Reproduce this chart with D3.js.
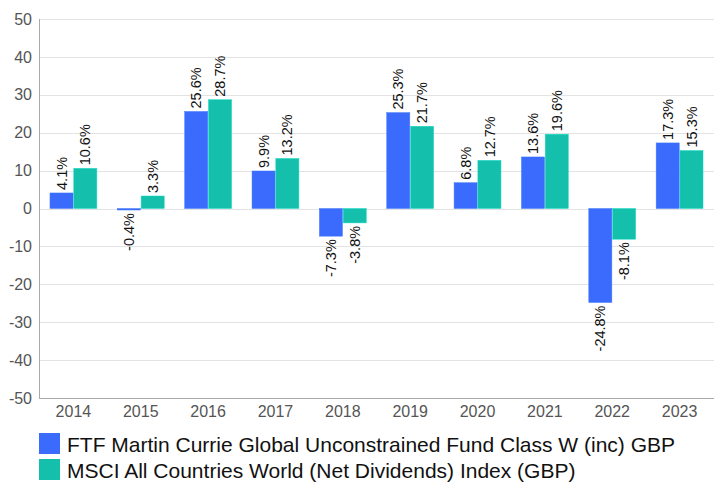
<!DOCTYPE html>
<html>
<head>
<meta charset="utf-8">
<script src="https://cdn.jsdelivr.net/npm/d3@7"></script>
<style>
  body { margin: 0; background: #fff; }
  svg { font-family: Arial, "Liberation Sans", sans-serif; }
</style>
</head>
<body>
<div id="chart"></div>
<script>
const years = ['2014', '2015', '2016', '2017', '2018', '2019', '2020', '2021', '2022', '2023'];
const fundValues = [4.1, -0.4, 25.6, 9.9, -7.3, 25.3, 6.8, 13.6, -24.8, 17.3];
const indexValues = [10.6, 3.3, 28.7, 13.2, -3.8, 21.7, 12.7, 19.6, -8.1, 15.3];
const seriesNames = [
    'FTF Martin Currie Global Unconstrained Fund Class W (inc) GBP',
    'MSCI All Countries World (Net Dividends) Index (GBP)'
];
const yTicks = [-50, -40, -30, -20, -10, 0, 10, 20, 30, 40, 50];

const colors = ['#3a6bfc', '#14bfab'];

const width = 715;
const height = 482;
const margin = { top: 19, right: 1, bottom: 84, left: 39 };
const innerW = width - margin.left - margin.right;
const innerH = height - margin.top - margin.bottom;

const svg = d3.select('#chart').append('svg')
    .attr('width', width)
    .attr('height', height);

const g = svg.append('g')
    .attr('transform', `translate(${margin.left},${margin.top})`);

const x = d3.scaleBand()
    .domain(years)
    .range([0, innerW])
    .paddingInner(0.304)
    .paddingOuter(0.163);

const xSub = d3.scaleBand()
    .domain([0, 1])
    .range([0, x.bandwidth()])
    .paddingInner(0.03);

const y = d3.scaleLinear()
    .domain([-50, 50])
    .range([innerH, 0]);

// gridlines
g.selectAll('.grid')
    .data(yTicks)
    .enter().append('line')
    .attr('x1', 0)
    .attr('x2', innerW)
    .attr('y1', d => Math.round(y(d)) + 0.5)
    .attr('y2', d => Math.round(y(d)) + 0.5)
    .attr('stroke', '#e3e3e3')
    .attr('stroke-width', 1);

// y axis labels
g.selectAll('.ytick')
    .data(yTicks)
    .enter().append('text')
    .attr('x', -7)
    .attr('y', d => y(d))
    .attr('dy', '0.35em')
    .attr('text-anchor', 'end')
    .attr('font-size', 16)
    .attr('fill', '#555')
    .text(d => d);

const data = years.map((yr, i) => ({ year: yr, vals: [fundValues[i], indexValues[i]] }));

const groups = g.selectAll('.grp')
    .data(data)
    .enter().append('g')
    .attr('transform', d => `translate(${x(d.year)},0)`);

groups.selectAll('rect')
    .data(d => d.vals.map((v, k) => ({ v, k })))
    .enter().append('rect')
    .attr('x', d => xSub(d.k))
    .attr('width', xSub.bandwidth())
    .attr('y', d => y(Math.max(0, d.v)))
    .attr('height', d => Math.max(1, Math.abs(y(d.v) - y(0))))
    .attr('fill', d => colors[d.k])
    .attr('stroke', d => d3.color(colors[d.k]).brighter(0.4))
    .attr('stroke-width', 0.5);

groups.selectAll('.lbl')
    .data(d => d.vals.map((v, k) => ({ v, k })))
    .enter().append('text')
    .attr('class', 'lbl')
    .attr('transform', d => {
        const cx = xSub(d.k) + xSub.bandwidth() / 2;
        const yy = d.v >= 0 ? y(d.v) - 3 : y(d.v) + 3;
        return `translate(${cx},${yy}) rotate(-90)`;
    })
    .attr('dy', '0.35em')
    .attr('text-anchor', d => d.v >= 0 ? 'start' : 'end')
    .attr('font-size', 14.5)
    .attr('fill', '#111')
    .text(d => d.v.toFixed(1) + '%');

// axis lines
g.append('line')
    .attr('x1', 0.5).attr('x2', 0.5)
    .attr('y1', 0).attr('y2', innerH)
    .attr('stroke', '#aaa');
g.append('line')
    .attr('x1', 0).attr('x2', innerW)
    .attr('y1', innerH + 0.5).attr('y2', innerH + 0.5)
    .attr('stroke', '#aaa');

// x labels
g.selectAll('.xtick')
    .data(years)
    .enter().append('text')
    .attr('x', d => x(d) + x.bandwidth() / 2)
    .attr('y', innerH + 19)
    .attr('text-anchor', 'middle')
    .attr('font-size', 16)
    .attr('fill', '#555')
    .text(d => d);

// legend
const legend = svg.append('g')
    .attr('transform', 'translate(39,433)');

seriesNames.forEach((name, i) => {
    legend.append('rect')
        .attr('x', 0)
        .attr('y', i * 26)
        .attr('width', 21)
        .attr('height', 21)
        .attr('fill', colors[i]);
    legend.append('text')
        .attr('x', 28)
        .attr('y', i * 26 + 19)
        .attr('font-size', 21)
        .attr('fill', '#111')
        .text(name);
});
</script>
</body>
</html>
